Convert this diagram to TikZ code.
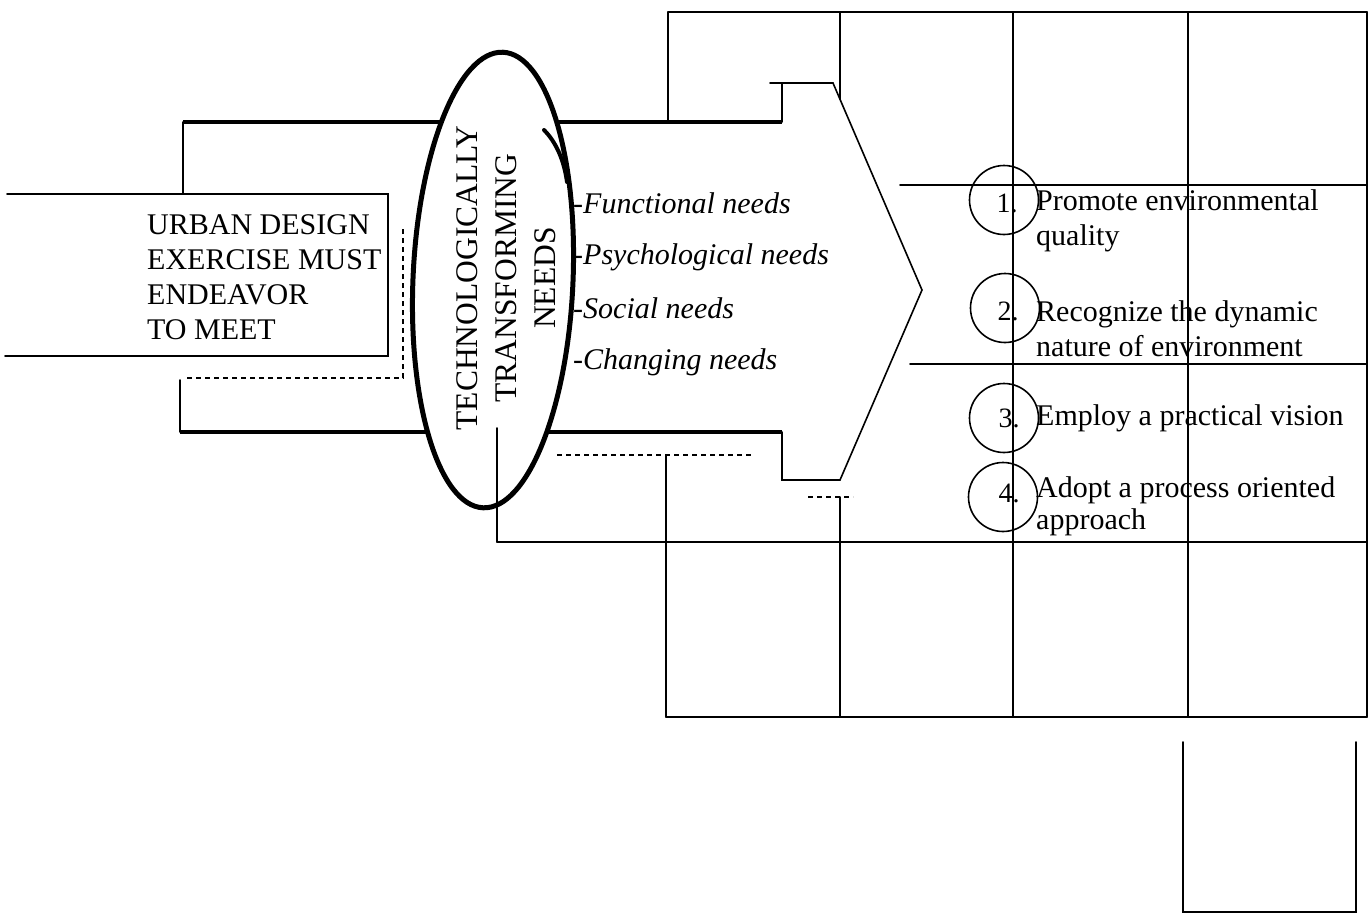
\documentclass[tikz,border=0pt]{standalone}
\usepackage{fontspec}
\setmainfont{Liberation Serif}
\begin{document}
\begin{tikzpicture}[x=1pt,y=-1pt,
  thinline/.style={line width=1.6pt, line cap=round},
  thickline/.style={line width=4.2pt},
  dotline/.style={line width=1.2pt, dash pattern=on 5pt off 4pt},
  capstext/.style={font=\fontsize{30}{35}\selectfont, align=left, inner sep=0pt, anchor=west},
  needtext/.style={font=\itshape\fontsize{30}{36}\selectfont, inner sep=0pt, anchor=west},
  righttext/.style={font=\fontsize{30}{35}\selectfont, align=left, inner sep=0pt, anchor=west},
  numcirc/.style={circle, draw, line width=1.6pt, minimum size=69pt, inner sep=0pt},
  numtext/.style={font=\fontsize{28}{30}\selectfont, inner sep=0pt}
]
\useasboundingbox (0,0) rectangle (1371,914);

% ---- grid
\coordinate (g1) at (668,12);
\coordinate (g5) at (1367,12);
\draw[thinline] (g1) -- (g5);
\draw[thinline] (668,12) -- (668,122);
\draw[thinline] (840,12) -- (840,99);
\draw[thinline] (1013,12) -- (1013,717);
\draw[thinline] (1188,12) -- (1188,717);
\draw[thinline] (1367,12) -- (1367,717);
\draw[thinline] (900,185) -- (1367,185);
\draw[thinline] (910,364) -- (1367,364);
\draw[thinline] (497,542) -- (1367,542);
\draw[thinline] (666,717) -- (1367,717);
\draw[thinline] (666,455) -- (666,717);
\draw[thinline] (840,497) -- (840,717);
\draw[dotline] (557,455) -- (752,455);
\draw[dotline] (808,497) -- (853,497);

% ---- bottom-right box
\draw[thinline] (1183,742) -- (1183,912) -- (1356,912) -- (1356,742);

% ---- left bracket and arrow body
\draw[thickline] (183,122) -- (782,122);
\draw[thickline] (180,432) -- (782,432);
\draw[thinline] (183,122) -- (183,194);
\draw[thinline] (180,380) -- (180,432);
\draw[dotline] (187,378) -- (403,378) -- (403,228);

% ---- arrow head
\draw[thinline] (782,122) -- (782,83);
\draw[thinline] (770,83) -- (833,83) -- (922,290) -- (840,480) -- (782,480) -- (782,432);

% ---- left box
\draw[thinline, fill=white] (7,194) -- (388,194) -- (388,356) -- (5,356);
\node[capstext] (urban) at (147,277) {URBAN DESIGN\\EXERCISE MUST\\ENDEAVOR\\TO MEET};

% ---- ellipse
\draw[line width=5pt, fill=white, rotate around={-2.5:(493,280)}] (493,280) ellipse [x radius=80, y radius=228];
\draw[line width=4pt, line cap=round] (544,130) .. controls (556,142) and (564,160) .. (567,182);
\node[font=\fontsize{31.5}{39}\selectfont, align=center, rotate=90, inner sep=0pt] (tech) at (506,278) {TECHNOLOGICALLY\\TRANSFORMING\\NEEDS};
\draw[thinline] (497,428) -- (497,542);

% ---- needs
\node[needtext] (n1) at (573,203) {-Functional needs};
\node[needtext] (n2) at (573,257) {-Psychological needs};
\node[needtext] (n3) at (573,308) {-Social needs};
\node[needtext] (n4) at (573,362) {-Changing needs};

% ---- numbered items
\node[numcirc] (c1) at (1004,200) {};
\node[numcirc] (c2) at (1005,308) {};
\node[numcirc] (c3) at (1004,418) {};
\node[numcirc] (c4) at (1003,497) {};
\node[numtext] (k1) at (1007,203) {1.};
\node[numtext] (k2) at (1008,311) {2.};
\node[numtext] (k3) at (1009,418) {3.};
\node[numtext] (k4) at (1009,493) {4.};
\node[righttext] (t1) at (1036,221) {Promote environmental\\quality};
\node[righttext] (t2) at (1036,329) {Recognize the dynamic\\nature of environment};
\node[righttext] (t3) at (1036,418) {Employ a practical vision};
\node[righttext, font=\fontsize{30}{32}\selectfont] (t4) at (1036,506) {Adopt a process oriented\\approach};
\end{tikzpicture}
\end{document}
